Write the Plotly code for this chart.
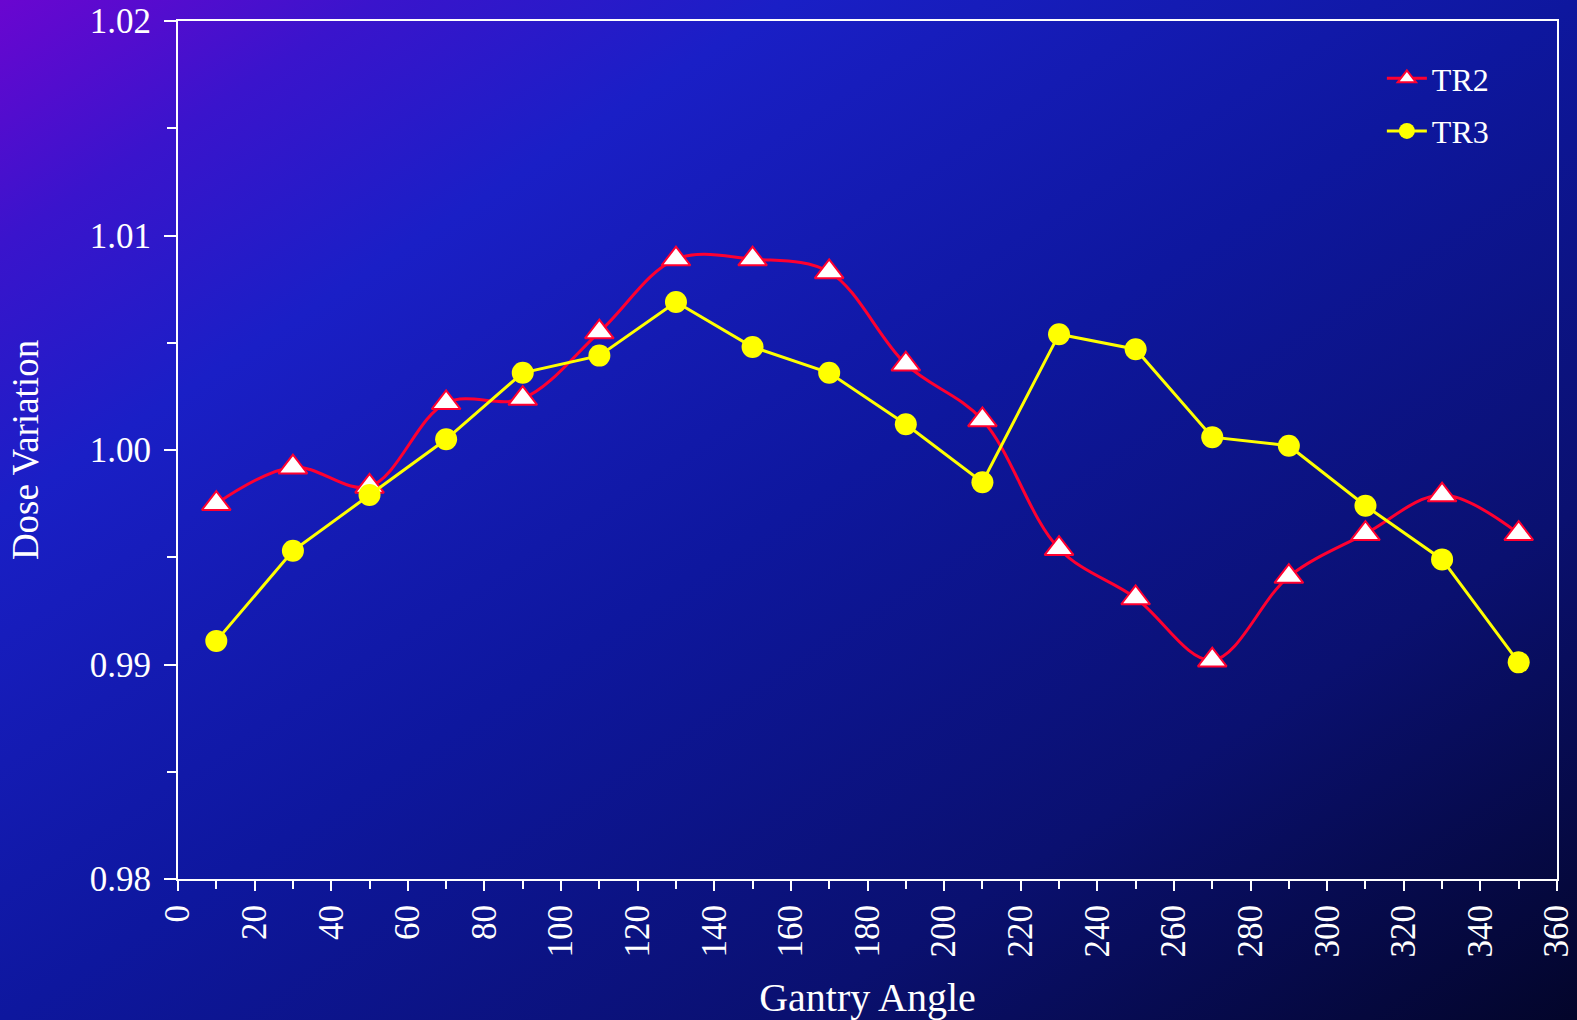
import base64
import plotly.graph_objects as go

# ---- data ----
angles = [10, 30, 50, 70, 90, 110, 130, 150, 170, 190, 210, 230, 250, 270, 290, 310, 330, 350]
tr2 = [0.9975, 0.9992, 0.9983, 1.0022, 1.0024, 1.0055, 1.0089, 1.0089, 1.0083, 1.0040,
       1.0014, 0.9954, 0.9931, 0.9902, 0.9941, 0.9961, 0.9979, 0.9961]
tr3 = [0.9911, 0.9953, 0.9979, 1.0005, 1.0036, 1.0044, 1.0069, 1.0048, 1.0036, 1.0012,
       0.9985, 1.0054, 1.0047, 1.0006, 1.0002, 0.9974, 0.9949, 0.9901]
x_ticks = list(range(0, 361, 20))
y_ticks = [0.98, 0.99, 1.00, 1.01, 1.02]

W, H = 1577, 1020
ML, MR, MT, MB = 178, 20, 21, 141
PW, PH = W - ML - MR, H - MT - MB

FONT = "Liberation Serif, Times New Roman, serif"

svg = f'''<svg xmlns="http://www.w3.org/2000/svg" width="{W}" height="{H}" preserveAspectRatio="none">
<defs><linearGradient id="g" x1="0" y1="0" x2="1" y2="1">
<stop offset="0" stop-color="#6a06d0"/>
<stop offset="0.12" stop-color="#3a14cc"/>
<stop offset="0.25" stop-color="#1a1fc6"/>
<stop offset="0.5" stop-color="#0e179e"/>
<stop offset="0.75" stop-color="#0a1070"/>
<stop offset="1" stop-color="#03052a"/>
</linearGradient></defs>
<rect width="{W}" height="{H}" fill="url(#g)"/></svg>'''
bg = "data:image/svg+xml;base64," + base64.b64encode(svg.encode()).decode()

fig = go.Figure()
fig.add_trace(go.Scatter(
    x=angles, y=tr2, name="TR2", mode="lines+markers", legendgroup="a",
    line=dict(color="#ff0030", width=3, shape="spline", smoothing=1.0),
    marker=dict(symbol="triangle-up", size=25, color="white",
                line=dict(color="#ff0030", width=2)),
))
fig.add_trace(go.Scatter(
    x=angles, y=tr3, name="TR3", mode="lines+markers", legendgroup="b",
    line=dict(color="#ffff00", width=3),
    marker=dict(symbol="circle", size=22, color="#ffff00"),
))

fig.update_layout(
    width=W, height=H,
    margin=dict(l=ML, r=MR, t=MT, b=MB, autoexpand=False),
    paper_bgcolor="#0e179e",
    plot_bgcolor="rgba(0,0,0,0)",
    font=dict(family=FONT, color="white", size=35),
    showlegend=True,
    legend=dict(x=0.873, y=0.965, xanchor="left", yanchor="top",
                bgcolor="rgba(0,0,0,0)", font=dict(size=32, color="white"),
                tracegroupgap=8, itemwidth=40),
    images=[dict(source=bg, xref="paper", yref="paper",
                 x=-ML / PW, y=1 + MT / PH, sizex=W / PW, sizey=H / PH,
                 xanchor="left", yanchor="top", sizing="stretch", layer="below")],
    xaxis=dict(
        range=[0, 360], tickvals=x_ticks, ticktext=[str(v) for v in x_ticks],
        tickangle=-90, showgrid=False, zeroline=False,
        showline=True, linecolor="white", linewidth=2, mirror=True,
        ticks="outside", ticklen=10, tickwidth=2, tickcolor="white",
        minor=dict(dtick=10, ticks="outside", ticklen=8, tickwidth=2, tickcolor="white", showgrid=False),
        tickfont=dict(size=35), automargin=False,
        title=dict(text="Gantry Angle", font=dict(size=40), standoff=26),
    ),
    yaxis=dict(
        range=[0.98, 1.02], tickvals=y_ticks, ticktext=[f"{v:.2f}" for v in y_ticks],
        showgrid=False, zeroline=False,
        showline=True, linecolor="white", linewidth=2, mirror=True,
        ticks="outside", ticklen=12, tickwidth=2, tickcolor="white",
        minor=dict(dtick=0.005, ticks="outside", ticklen=9, tickwidth=2, tickcolor="white", showgrid=False),
        tickfont=dict(size=35), automargin=False, ticklabelstandoff=6,
        title=dict(text="Dose Variation", font=dict(size=37), standoff=40),
    ),
)

fig.write_html("out.html", config={"displayModeBar": False},
               post_script="document.body.style.margin='0';document.body.style.overflow='hidden';")
